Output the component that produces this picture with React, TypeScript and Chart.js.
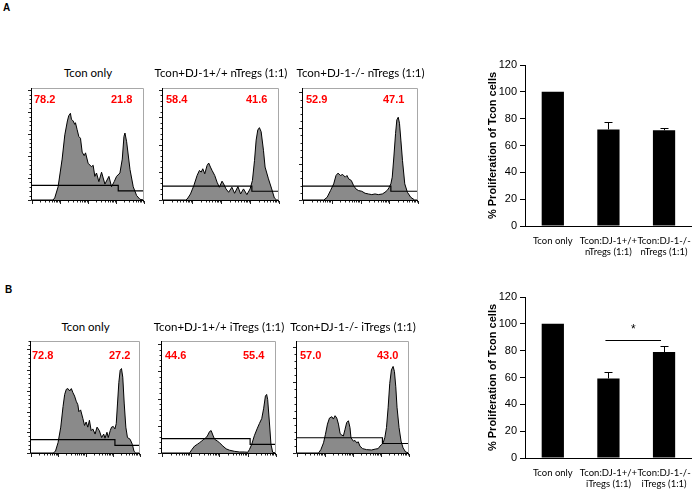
import React, { useEffect, useRef } from "react";
import { Chart, registerables } from "chart.js";
Chart.register(...registerables);

// ---------- Histogram data: [channel (0-100 over 4 log decades), relative count (0-100)] ----------
const A1_HIST: [number, number][] = [
  [0, 0], [18.8, 0], [20.3, 1.9], [23.3, 11.8], [26.9, 36.5], [29.3, 58.2], [31.6, 70.6], [32.8, 75.2],
  [34.3, 77.4], [35.2, 72.1], [36.7, 70.6], [38.2, 67.5], [38.8, 69.0], [40.3, 62.8], [41.8, 56.7],
  [43.3, 55.1], [44.8, 42.7], [46.6, 39.6], [47.8, 42.1], [50.1, 32.8], [53.1, 29.7], [54.6, 31.0],
  [56.1, 21.1], [57.6, 24.1], [59.7, 16.4], [62.1, 24.8], [65.1, 14.2], [68.7, 21.1], [71.0, 11.8],
  [73.4, 16.4], [75.5, 21.1], [78.5, 24.1], [80.6, 36.5], [82.1, 56.7], [83.0, 59.8], [84.5, 52.0],
  [87.5, 27.2], [90.4, 11.8], [93.4, 4.0], [96.4, 0.6], [100, 0],
];
const A2_HIST: [number, number][] = [
  [0, 0], [19.4, 0], [20.9, 0.9], [23.7, 5.4], [26.6, 12.9], [29.4, 21.9], [31.4, 26.4], [32.9, 24.9],
  [34.3, 27.9], [36.0, 23.4], [38.0, 30.9], [39.4, 33.0], [40.9, 29.4], [42.3, 26.4], [44.6, 21.9],
  [46.6, 15.9], [48.6, 11.4], [50.9, 16.8], [52.3, 14.4], [54.3, 9.9], [56.6, 6.9], [59.4, 11.4],
  [61.7, 6.0], [64.6, 12.0], [66.9, 5.4], [69.4, 9.9], [72.3, 4.8], [75.1, 9.9], [77.1, 17.4],
  [78.9, 35.4], [80.3, 53.5], [81.7, 62.5], [83.1, 64.6], [84.6, 61.0], [86.6, 44.4], [88.0, 29.4],
  [90.9, 18.9], [93.7, 9.9], [96.0, 1.8], [98, 0], [100, 0],
];
const A3_HIST: [number, number][] = [
  [0, 0], [18.1, 0], [21.0, 2.4], [23.9, 8.4], [26.7, 14.4], [28.7, 21.9], [30.5, 24.0], [32.5, 21.9],
  [34.5, 22.8], [36.8, 20.4], [38.2, 21.9], [39.7, 18.9], [42.0, 17.4], [44.0, 12.9], [46.0, 9.9],
  [48.3, 8.4], [51.1, 7.8], [54.0, 6.0], [56.9, 5.4], [59.8, 4.8], [62.6, 5.4], [65.5, 4.8], [69.0, 5.4],
  [71.3, 6.9], [73.6, 9.0], [75.0, 11.4], [76.4, 14.4], [77.6, 20.4], [79.0, 38.4], [80.5, 59.5],
  [81.6, 71.5], [82.8, 73.9], [83.9, 68.5], [85.1, 53.5], [86.5, 35.4], [88.5, 14.4], [90.8, 6.9],
  [93.7, 2.4], [97.1, 0], [100, 0],
];
const B1_HIST: [number, number][] = [
  [0, 0], [20.3, 0], [22.4, 1.5], [24.8, 9.2], [27.3, 23.1], [29.4, 41.5], [30.9, 52.3], [32.4, 56.9],
  [33.9, 57.5], [35.5, 55.4], [37.0, 57.5], [38.5, 53.8], [40.0, 50.8], [41.5, 46.2], [43.0, 43.1],
  [43.9, 36.9], [45.5, 38.5], [47.6, 30.8], [49.1, 24.6], [50.6, 27.7], [52.1, 23.1], [53.6, 29.2],
  [55.2, 20.0], [56.7, 21.5], [58.8, 16.9], [60.6, 23.1], [62.7, 20.0], [64.8, 13.8], [66.7, 16.9],
  [67.9, 13.2], [69.7, 18.5], [70.9, 13.8], [72.7, 20.0], [73.9, 23.1], [75.5, 23.7], [77.0, 21.5],
  [78.2, 26.2], [79.4, 44.6], [80.6, 63.1], [81.8, 73.8], [83.0, 75.4], [84.2, 67.7], [85.5, 44.6],
  [87.0, 23.1], [88.5, 13.8], [90.9, 12.3], [93.0, 7.7], [94.5, 1.5], [96.1, 0], [100, 0],
];
const B2_HIST: [number, number][] = [
  [0, 0], [24.2, 0], [26.2, 3.1], [28.6, 6.2], [30.9, 7.7], [32.9, 9.2], [35.0, 10.8], [36.7, 12.3],
  [38.8, 13.8], [40.2, 16.0], [41.7, 19.1], [43.1, 20.0], [44.6, 16.0], [46.1, 12.3], [48.4, 10.8],
  [50.4, 9.2], [53.4, 6.2], [56.3, 3.7], [59.2, 2.5], [63.6, 1.5], [67.9, 0.9], [72.3, 0.9], [75.2, 0.6],
  [76.7, 3.1], [78.7, 7.7], [81.0, 15.4], [83.4, 21.5], [85.4, 26.2], [87.5, 30.8], [89.2, 40.0],
  [90.7, 50.8], [91.8, 52.3], [92.7, 47.7], [94.2, 27.7], [95.6, 7.7], [97.1, 0.6], [100, 0],
];
const B3_HIST: [number, number][] = [
  [0, 0], [19.2, 0], [21.3, 3.0], [23.7, 9.1], [25.4, 16.7], [27.2, 25.8], [29.0, 31.2], [31.1, 32.4],
  [32.5, 30.3], [34.0, 33.3], [35.5, 31.2], [37.0, 25.8], [38.5, 17.3], [39.9, 16.1], [41.4, 15.2],
  [42.9, 21.2], [44.4, 27.3], [45.9, 28.8], [47.3, 22.7], [48.2, 13.6], [50.3, 10.6], [51.8, 11.2],
  [53.3, 9.1], [54.7, 10.0], [56.2, 6.1], [58.6, 3.9], [62.1, 3.0], [66.6, 2.7], [70.4, 3.6], [72.5, 3.9],
  [74.0, 6.1], [75.7, 7.6], [76.9, 9.1], [78.4, 13.6], [79.9, 22.7], [81.4, 40.9], [82.8, 62.1],
  [84.3, 74.2], [85.8, 77.3], [87.0, 72.7], [88.2, 59.1], [89.3, 40.9], [91.1, 22.7], [92.9, 10.6],
  [94.7, 4.5], [97.0, 0.9], [100, 0],
];

// Gates: [left gate level, right gate level, boundary channel]
const A1_GATE = [13, 8.2, 77.0];
const A2_GATE = [12.3, 7.8, 76.6];
const A3_GATE = [12.3, 7.8, 76.4];
const B1_GATE = [12.0, 6.8, 77.0];
const B2_GATE = [12.9, 7.7, 77.3];
const B3_GATE = [13.6, 8.5, 76.3];

// Gate percentages [left, right]
const A1_PCT = ["78.2", "21.8"];
const A2_PCT = ["58.4", "41.6"];
const A3_PCT = ["52.9", "47.1"];
const B1_PCT = ["72.8", "27.2"];
const B2_PCT = ["44.6", "55.4"];
const B3_PCT = ["57.0", "43.0"];

const A_TITLES = ["Tcon only", "Tcon+DJ-1+/+ nTregs (1:1)", "Tcon+DJ-1-/- nTregs (1:1)"];
const B_TITLES = ["Tcon only", "Tcon+DJ-1+/+ iTregs (1:1)", "Tcon+DJ-1-/- iTregs (1:1)"];

// ---------- Bar chart data ----------
const A_CATEGORIES = ["Tcon only", ["Tcon:DJ-1+/+", "nTregs (1:1)"], ["Tcon:DJ-1-/-", "nTregs (1:1)"]];
const A_VALUES = [100, 72, 71.3];
const A_ERRORS = [0, 5.5, 1.8];
const B_CATEGORIES = ["Tcon only", ["Tcon:DJ-1+/+", "iTregs (1:1)"], ["Tcon:DJ-1-/-", "iTregs (1:1)"]];
const B_VALUES = [100, 59.3, 79];
const B_ERRORS = [0, 4.9, 4.2];
const B_SIG_LEVEL = 88;
const B_SIG_STAR_LEVEL = 96;
const Y_TICK_MAX = 120;
const Y_TICK_STEP = 20;
const Y_TITLE = "% Proliferation of Tcon cells";

const FILL = "#8a8a8a";

type Box = { l: number; t: number; w: number; h: number };

function Histogram({ box, hist, gate, yStep }: { box: Box; hist: [number, number][]; gate: number[]; yStep: number }) {
  const ref = useRef<HTMLCanvasElement>(null);
  const PAD = { left: 5, right: 2, top: 2, bottom: 5 };
  useEffect(() => {
    const frame = {
      id: "frame",
      afterDraw(chart: any) {
        const { ctx, chartArea: a, scales } = chart;
        const sx = scales.x, sy = scales.y;
        ctx.save();
        ctx.lineWidth = 1;
        ctx.strokeStyle = "#a8a8a8";
        ctx.beginPath();
        ctx.moveTo(a.left, Math.round(a.top) + 0.5);
        ctx.lineTo(Math.round(a.right) - 0.5, Math.round(a.top) + 0.5);
        ctx.lineTo(Math.round(a.right) - 0.5, a.bottom);
        ctx.stroke();
        ctx.strokeStyle = "#000";
        ctx.beginPath();
        ctx.moveTo(Math.round(a.left) - 0.5, a.top);
        ctx.lineTo(Math.round(a.left) - 0.5, Math.round(a.bottom) + 0.5);
        ctx.lineTo(a.right, Math.round(a.bottom) + 0.5);
        ctx.stroke();
        ctx.strokeStyle = "#222";
        ctx.beginPath();
        for (let d = 0; d < 4; d++) {
          for (let k = 1; k <= 10; k++) {
            if (d > 0 && k === 1) continue;
            const v = d * 25 + 25 * Math.log10(k);
            const px = Math.round(sx.getPixelForValue(v)) + 0.5;
            const len = k === 1 || k === 10 ? 3 : 1.5;
            ctx.moveTo(px, a.bottom + 1);
            ctx.lineTo(px, a.bottom + 1 + len);
          }
        }
        for (let i = 0; i * yStep / 5 <= 100; i++) {
          const v = (i * yStep) / 5;
          const py = Math.round(sy.getPixelForValue(v)) + 0.5;
          const len = i % 5 === 0 ? 3 : 1.5;
          ctx.moveTo(a.left - 1, py);
          ctx.lineTo(a.left - 1 - len, py);
        }
        ctx.stroke();
        ctx.restore();
      },
    };
    const chart = new Chart(ref.current as HTMLCanvasElement, {
      type: "line",
      data: {
        datasets: [
          {
            data: [
              { x: 0, y: gate[0] },
              { x: gate[2], y: gate[0] },
              { x: gate[2], y: gate[1] },
              { x: 100, y: gate[1] },
            ],
            borderColor: "#000",
            borderWidth: 1.2,
            pointRadius: 0,
            fill: false,
            tension: 0,
          },
          {
            data: hist.map(([x, y]) => ({ x, y })),
            borderColor: "#000",
            borderWidth: 1,
            backgroundColor: FILL,
            fill: "origin",
            pointRadius: 0,
            tension: 0,
          },
        ],
      },
      options: {
        animation: false,
        responsive: false,
        events: [],
        layout: { padding: PAD },
        plugins: { legend: { display: false }, tooltip: { enabled: false } },
        scales: {
          x: { type: "linear", min: 0, max: 100, display: false },
          y: { min: 0, max: 100, display: false },
        },
      },
      plugins: [frame],
    } as any);
    return () => chart.destroy();
  }, []);
  return (
    <canvas
      ref={ref}
      width={box.w + PAD.left + PAD.right}
      height={box.h + PAD.top + PAD.bottom}
      style={{ position: "absolute", left: box.l - PAD.left, top: box.t - PAD.top }}
    />
  );
}

function BarPanel({ top, categories, values, errors, sig }: { top: number; categories: any[]; values: number[]; errors: number[]; sig?: { level: number; star: number } }) {
  const ref = useRef<HTMLCanvasElement>(null);
  useEffect(() => {
    const errorBars = {
      id: "errorBars",
      afterDatasetsDraw(chart: any) {
        const meta = chart.getDatasetMeta(0);
        const sy = chart.scales.y;
        const ctx = chart.ctx;
        ctx.save();
        ctx.strokeStyle = "#000";
        ctx.lineWidth = 1;
        ctx.beginPath();
        meta.data.forEach((bar: any, i: number) => {
          const e = errors[i];
          if (!e) return;
          const yt = Math.round(sy.getPixelForValue(values[i] + e)) + 0.5;
          const x = Math.round(bar.x) + 0.5;
          ctx.moveTo(x, bar.y);
          ctx.lineTo(x, yt);
          ctx.moveTo(x - 4, yt);
          ctx.lineTo(x + 4, yt);
        });
        ctx.stroke();
        if (sig) {
          const b1 = meta.data[1], b2 = meta.data[2];
          const ys = Math.round(sy.getPixelForValue(sig.level)) + 0.5;
          ctx.beginPath();
          ctx.moveTo(b1.x - 3, ys);
          ctx.lineTo(b2.x - 3, ys);
          ctx.stroke();
          ctx.fillStyle = "#000";
          ctx.font = "12px 'Liberation Sans', Arial";
          ctx.textAlign = "center";
          ctx.textBaseline = "middle";
          ctx.fillText("*", (b1.x + b2.x) / 2 - 3, sy.getPixelForValue(sig.star));
        }
        ctx.restore();
      },
    };
    const chart = new Chart(ref.current as HTMLCanvasElement, {
      type: "bar",
      data: {
        labels: categories,
        datasets: [
          {
            data: values,
            backgroundColor: "#000",
            borderWidth: 0,
            barPercentage: 0.4,
            categoryPercentage: 1,
          },
        ],
      },
      options: {
        animation: false,
        responsive: false,
        events: [],
        layout: { padding: { top: 10, right: 2, left: 0, bottom: 0 } },
        plugins: { legend: { display: false }, tooltip: { enabled: false } },
        scales: {
          x: {
            grid: { display: false, drawTicks: false },
            border: { display: true, color: "#000", width: 1 },
            ticks: { color: "#000", font: { family: "Lato", size: 9.5 }, padding: 9, maxRotation: 0, autoSkip: false },
            afterFit: (s: any) => {
              s.height = 33;
            },
          },
          y: {
            min: 0,
            max: Y_TICK_MAX,
            ticks: { stepSize: Y_TICK_STEP, color: "#000", font: { family: "Liberation Sans", size: 11 }, padding: 3 },
            grid: { drawOnChartArea: false, tickLength: 5, color: "#000" },
            border: { display: true, color: "#000", width: 1 },
            title: {
              display: true,
              text: Y_TITLE,
              color: "#000",
              font: { family: "Liberation Sans", size: 11, weight: "bold" },
              padding: { top: 16, bottom: 0 },
            },
            afterFit: (s: any) => {
              s.width = 55;
            },
          },
        },
      },
      plugins: [errorBars],
    } as any);
    return () => chart.destroy();
  }, []);
  return <canvas ref={ref} width={230} height={204} style={{ position: "absolute", left: 470, top }} />;
}

const titleStyle = (cx: number, cy: number): React.CSSProperties => ({
  position: "absolute",
  left: cx - 90,
  width: 180,
  top: cy - 7,
  lineHeight: "14px",
  textAlign: "center",
  fontFamily: "Lato, sans-serif",
  fontSize: 11.5,
  color: "#000",
  whiteSpace: "nowrap",
});
const pctStyle = (x: number, cy: number): React.CSSProperties => ({
  position: "absolute",
  left: x,
  top: cy - 6,
  lineHeight: "12px",
  fontFamily: "'Liberation Sans', Arial, sans-serif",
  fontWeight: "bold",
  fontSize: 11,
  color: "#ff0000",
  whiteSpace: "nowrap",
});
const panelStyle = (x: number, y: number): React.CSSProperties => ({
  position: "absolute",
  left: x,
  top: y,
  lineHeight: "12px",
  fontFamily: "'Liberation Sans', Arial, sans-serif",
  fontWeight: "bold",
  fontSize: 10,
  color: "#000",
});

export default function App() {
  const aBoxes: Box[] = [
    { l: 32, t: 88, w: 112, h: 112 },
    { l: 163, t: 88, w: 116, h: 112 },
    { l: 303, t: 88, w: 115, h: 112 },
  ];
  const bBoxes: Box[] = [
    { l: 31, t: 341, w: 109, h: 112 },
    { l: 162, t: 341, w: 114, h: 112 },
    { l: 297, t: 341, w: 112, h: 112 },
  ];
  const aHists = [A1_HIST, A2_HIST, A3_HIST];
  const bHists = [B1_HIST, B2_HIST, B3_HIST];
  const aGates = [A1_GATE, A2_GATE, A3_GATE];
  const bGates = [B1_GATE, B2_GATE, B3_GATE];
  const aSteps = [19.6, 24.6, 32];
  const bSteps = [18.5, 24.3, 31.5];
  const aPct = [A1_PCT, A2_PCT, A3_PCT];
  const bPct = [B1_PCT, B2_PCT, B3_PCT];
  const aPctX = [[34, 111], [166, 246], [306, 383]];
  const bPctX = [[32, 109], [165, 243], [300, 377]];
  return (
    <div style={{ position: "absolute", left: 0, top: 0, width: 700, height: 491, overflow: "hidden", background: "#fff" }}>
      <div style={panelStyle(3, 2)}>A</div>
      <div style={panelStyle(5, 284)}>B</div>
      {aBoxes.map((b, i) => (
        <React.Fragment key={"a" + i}>
          <div style={titleStyle(b.l + b.w / 2, 73)}>{A_TITLES[i]}</div>
          <Histogram box={b} hist={aHists[i]} gate={aGates[i]} yStep={aSteps[i]} />
          <div style={pctStyle(aPctX[i][0], 98.5)}>{aPct[i][0]}</div>
          <div style={pctStyle(aPctX[i][1], 98.5)}>{aPct[i][1]}</div>
        </React.Fragment>
      ))}
      {bBoxes.map((b, i) => (
        <React.Fragment key={"b" + i}>
          <div style={titleStyle(b.l + b.w / 2, 327)}>{B_TITLES[i]}</div>
          <Histogram box={b} hist={bHists[i]} gate={bGates[i]} yStep={bSteps[i]} />
          <div style={pctStyle(bPctX[i][0], 354.5)}>{bPct[i][0]}</div>
          <div style={pctStyle(bPctX[i][1], 354.5)}>{bPct[i][1]}</div>
        </React.Fragment>
      ))}
      <BarPanel top={55} categories={A_CATEGORIES} values={A_VALUES} errors={A_ERRORS} />
      <BarPanel top={287} categories={B_CATEGORIES} values={B_VALUES} errors={B_ERRORS} sig={{ level: B_SIG_LEVEL, star: B_SIG_STAR_LEVEL }} />
    </div>
  );
}
